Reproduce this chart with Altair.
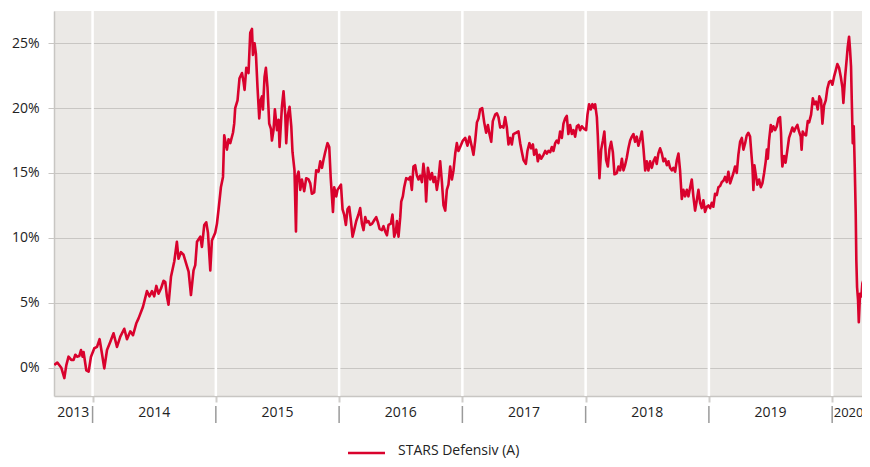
import altair as alt
import pandas as pd

# decimal-year time stamps and fund performance (%)
t = [
2013.689,2013.714,2013.746,2013.771,2013.787,2013.805,2013.827,2013.846,2013.860,2013.874,
2013.892,2013.906,2013.919,2013.927,2013.949,2013.968,2013.987,2014.014,2014.036,2014.057,
2014.076,2014.095,2014.117,2014.144,2014.170,2014.198,2014.225,2014.257,2014.279,2014.306,
2014.328,2014.354,2014.373,2014.409,2014.441,2014.462,2014.482,2014.500,2014.517,2014.535,
2014.555,2014.576,2014.590,2014.603,2014.616,2014.636,2014.663,2014.684,2014.697,2014.717,
2014.738,2014.766,2014.779,2014.798,2014.819,2014.833,2014.847,2014.874,2014.887,2014.906,
2014.922,2014.936,2014.955,2014.968,2014.995,2015.009,2015.022,2015.041,2015.058,2015.068,
2015.090,2015.103,2015.117,2015.139,2015.149,2015.157,2015.176,2015.192,2015.212,2015.225,
2015.233,2015.247,2015.265,2015.279,2015.293,2015.301,2015.314,2015.325,2015.338,2015.352,
2015.363,2015.374,2015.382,2015.395,2015.406,2015.419,2015.433,2015.447,2015.455,2015.468,
2015.479,2015.496,2015.509,2015.517,2015.536,2015.549,2015.563,2015.571,2015.585,2015.598,
2015.612,2015.622,2015.638,2015.650,2015.658,2015.671,2015.685,2015.698,2015.717,2015.733,
2015.752,2015.766,2015.779,2015.798,2015.814,2015.833,2015.847,2015.861,2015.873,2015.887,
2015.906,2015.920,2015.932,2015.950,2015.960,2015.977,2015.987,2016.015,2016.028,2016.041,
2016.055,2016.068,2016.082,2016.096,2016.109,2016.122,2016.139,2016.157,2016.171,2016.185,
2016.198,2016.212,2016.225,2016.238,2016.252,2016.268,2016.287,2016.301,2016.315,2016.328,
2016.347,2016.360,2016.374,2016.388,2016.401,2016.420,2016.433,2016.447,2016.461,2016.469,
2016.482,2016.496,2016.504,2016.517,2016.528,2016.544,2016.563,2016.577,2016.590,2016.603,
2016.617,2016.631,2016.644,2016.658,2016.672,2016.684,2016.698,2016.706,2016.720,2016.739,
2016.753,2016.766,2016.779,2016.793,2016.806,2016.820,2016.834,2016.847,2016.861,2016.874,
2016.887,2016.901,2016.915,2016.928,2016.942,2016.955,2016.968,2016.982,2017.004,2017.023,
2017.041,2017.058,2017.077,2017.090,2017.104,2017.118,2017.131,2017.144,2017.161,2017.177,
2017.193,2017.207,2017.220,2017.234,2017.247,2017.266,2017.280,2017.293,2017.307,2017.320,
2017.333,2017.347,2017.361,2017.374,2017.388,2017.401,2017.414,2017.436,2017.455,2017.469,
2017.483,2017.496,2017.515,2017.528,2017.544,2017.558,2017.572,2017.582,2017.599,2017.612,
2017.625,2017.639,2017.658,2017.672,2017.685,2017.698,2017.712,2017.726,2017.739,2017.753,
2017.766,2017.779,2017.793,2017.807,2017.820,2017.834,2017.847,2017.860,2017.874,2017.888,
2017.901,2017.915,2017.929,2017.942,2017.955,2017.969,2017.988,2018.004,2018.015,2018.028,
2018.042,2018.055,2018.069,2018.077,2018.091,2018.099,2018.112,2018.126,2018.140,2018.152,
2018.166,2018.180,2018.193,2018.207,2018.221,2018.234,2018.253,2018.266,2018.280,2018.294,
2018.307,2018.320,2018.334,2018.347,2018.361,2018.375,2018.388,2018.401,2018.415,2018.428,
2018.442,2018.456,2018.469,2018.483,2018.496,2018.509,2018.523,2018.537,2018.550,2018.564,
2018.577,2018.590,2018.604,2018.618,2018.631,2018.645,2018.659,2018.672,2018.685,2018.699,
2018.712,2018.726,2018.740,2018.753,2018.766,2018.780,2018.793,2018.807,2018.821,2018.834,
2018.848,2018.861,2018.874,2018.888,2018.902,2018.915,2018.929,2018.942,2018.955,2018.969,
2018.983,2018.996,2019.010,2019.023,2019.036,2019.050,2019.064,2019.077,2019.091,2019.105,
2019.118,2019.131,2019.145,2019.158,2019.172,2019.186,2019.199,2019.212,2019.226,2019.239,
2019.253,2019.267,2019.280,2019.294,2019.307,2019.320,2019.334,2019.342,2019.353,2019.361,
2019.369,2019.383,2019.393,2019.407,2019.421,2019.434,2019.448,2019.461,2019.470,2019.478,
2019.488,2019.502,2019.510,2019.523,2019.537,2019.551,2019.564,2019.577,2019.585,2019.591,
2019.596,2019.610,2019.622,2019.637,2019.650,2019.664,2019.677,2019.691,2019.705,2019.718,
2019.731,2019.745,2019.752,2019.761,2019.772,2019.788,2019.802,2019.813,2019.829,2019.843,
2019.856,2019.869,2019.883,2019.896,2019.910,2019.921,2019.934,2019.948,2019.961,2019.975,
2019.989,2020.002,2020.015,2020.029,2020.042,2020.056,2020.070,2020.083,2020.091,2020.105,
2020.118,2020.126,2020.137,2020.145,2020.153,2020.159,2020.164,2020.167,2020.175,2020.183,
2020.191,2020.196,2020.202,2020.210,2020.216,2020.226,2020.237,2020.245,2020.259,2020.272,
2020.285,2020.297,2020.302,
]
v = [
0.2,0.4,0.0,-0.8,0.2,0.85,0.6,0.6,1.0,0.85,
0.9,1.36,0.85,1.2,-0.2,-0.3,0.85,1.5,1.6,2.2,
1.1,-0.05,1.36,2.0,2.65,1.6,2.4,3.0,2.2,2.8,
2.5,3.4,3.8,4.7,5.9,5.5,5.9,5.5,6.3,5.7,
6.1,6.7,6.6,5.5,4.85,7.0,8.2,9.7,8.4,8.9,
8.7,7.8,7.4,5.6,7.5,7.9,9.7,10.1,9.3,11.0,
11.2,10.4,7.5,9.8,10.4,11.1,12.2,13.9,14.7,17.9,
16.8,17.6,17.3,18.1,18.8,20.0,20.6,22.3,22.7,22.0,
21.4,23.1,22.7,25.8,26.1,24.1,25.0,24.2,21.6,19.2,
20.6,20.9,19.9,22.4,23.1,21.6,18.8,18.4,17.5,18.3,
19.9,18.3,19.1,17.0,20.1,21.3,19.5,17.3,19.5,20.1,
18.6,16.6,15.2,10.5,14.7,15.1,13.7,14.5,13.6,14.6,
14.5,14.2,13.4,13.5,15.2,15.1,15.9,15.4,16.0,16.6,
17.3,17.0,14.6,12.0,13.9,13.2,13.7,14.1,12.2,11.8,
11.0,12.2,12.4,11.3,10.1,10.6,11.3,11.8,12.3,11.1,
10.6,11.6,11.2,11.3,11.0,11.1,11.4,11.6,11.2,10.7,
10.6,10.9,10.5,10.2,11.0,11.1,11.8,10.1,10.5,11.3,
10.1,11.6,12.8,13.2,13.9,14.6,14.5,14.7,13.7,15.5,
15.6,14.8,14.5,14.8,14.3,15.7,14.6,12.8,15.4,14.5,
15.0,14.3,14.7,13.7,14.5,15.9,14.3,12.5,12.1,13.7,
14.1,15.5,14.5,15.2,16.5,17.3,16.7,17.0,17.5,17.7,
17.1,17.8,17.0,16.4,17.5,18.9,19.2,19.9,20.0,18.9,
18.1,18.7,18.0,17.4,19.0,19.5,19.6,19.3,18.5,18.6,
18.5,19.3,18.5,17.2,17.7,17.2,18.0,18.1,18.2,17.3,
16.6,16.0,15.7,16.7,17.3,16.9,17.2,16.4,16.8,15.9,
16.4,16.1,16.4,16.7,16.5,16.7,16.6,17.0,16.7,17.3,
17.5,17.3,18.2,17.7,18.8,19.2,19.4,18.0,18.7,18.0,
18.3,17.8,18.6,18.7,18.3,18.6,18.4,18.3,19.5,20.3,
19.9,20.3,20.0,20.3,19.3,17.8,14.6,16.8,17.5,18.2,
16.0,15.5,16.8,17.4,16.6,14.9,15.0,15.5,15.2,16.1,
15.2,15.6,16.2,16.9,17.5,17.8,18.0,17.4,17.8,17.1,
17.6,18.2,16.9,15.2,15.9,15.2,15.9,15.4,15.9,16.2,
15.7,16.5,16.9,16.5,15.9,16.1,15.6,15.9,15.4,15.2,
15.4,15.1,16.0,16.5,15.2,13.0,13.7,13.2,13.7,13.2,
13.9,14.5,13.2,12.1,12.9,13.7,12.7,12.3,12.9,12.0,
12.4,12.5,12.3,12.7,12.4,13.4,13.3,13.9,14.0,14.3,
14.4,14.7,14.3,15.1,14.2,14.6,15.0,15.5,15.0,16.4,
17.4,17.7,16.8,17.3,17.9,18.1,17.8,16.8,15.5,13.7,
15.6,14.7,14.1,14.5,13.9,14.2,15.0,15.9,16.8,16.1,
17.5,18.7,18.2,18.6,18.3,18.6,19.2,19.3,18.1,16.3,
15.5,16.3,15.8,16.8,17.7,18.1,18.5,18.2,18.5,18.7,
18.2,17.8,16.8,18.2,18.0,17.9,19.0,18.9,19.5,20.75,
20.3,20.5,19.9,20.9,20.6,18.8,20.2,20.6,21.5,22.0,
22.1,21.8,22.4,22.9,23.4,23.1,22.4,21.6,20.4,22.4,
23.8,24.7,25.5,24.5,23.2,20.6,18.6,17.3,18.6,15.5,
11.9,8.3,6.2,5.2,3.5,5.7,5.5,6.5,6.9,7.8,
8.2,8.5,7.6,
]
series_name = "STARS Defensiv (A)"
year_marks = [2014, 2015, 2016, 2017, 2018, 2019, 2020]
year_labels = ["2013", "2014", "2015", "2016", "2017", "2018", "2019", "2020"]
y_ticks = [0, 5, 10, 15, 20, 25]

x_start, x_end = 2013.687, 2020.242
y_lo, y_hi = -2.18, 27.48

W, H = 808, 385
FONT = "Open Sans"
RED = "#d9022d"

df = pd.DataFrame({"t": t, "v": v})
years_df = pd.DataFrame({"year": year_marks})
lab_pos, lab_size = [], []
for lab in year_labels:
    y0 = max(int(lab), x_start)
    y1 = min(int(lab) + 1, x_end)
    lab_pos.append((y0 + y1) / 2 + (0.012 if y1 == x_end else 0))
    lab_size.append(13 if y1 == x_end else 14)
labels_df = pd.DataFrame({"pos": lab_pos, "label": year_labels, "fs": lab_size})

xscale = alt.Scale(domain=[x_start, x_end], nice=False, zero=False)
yscale = alt.Scale(domain=[y_lo, y_hi], nice=False, zero=False)

base_x = alt.X(
    "t:Q", scale=xscale, title=None,
    axis=alt.Axis(values=year_marks, labels=False, grid=False, tickSize=6,
                  tickColor="#cfcdca", tickWidth=2, domainColor="#c8c6c3",
                  domainWidth=1.5),
)
base_y = alt.Y(
    "v:Q", scale=yscale, title=None,
    axis=alt.Axis(values=y_ticks, labelExpr="datum.value + '%'", grid=True,
                  gridColor="#c8c6c3", gridWidth=1, tickSize=6,
                  tickColor="#c8c6c3", domainColor="#c8c6c3", domainWidth=1.5,
                  labelFont=FONT, labelFontSize=14, labelColor="#222222",
                  labelPadding=9),
)

white_rules = alt.Chart(years_df).mark_rule(color="white", strokeWidth=2.5).encode(
    x=alt.X("year:Q", scale=xscale)
)

line = alt.Chart(df).mark_line(color=RED, strokeWidth=2.6, strokeJoin="round",
                               clip=True).encode(
    x=base_x, y=base_y
)

separators = alt.Chart(years_df).mark_rule(color="#9a9a9a", strokeWidth=1.5).encode(
    x=alt.X("year:Q", scale=xscale),
    y=alt.value(H + 10),
    y2=alt.value(H + 27),
)

year_text = alt.Chart(labels_df).mark_text(
    font=FONT, color="#222222", baseline="middle", align="center"
).encode(
    x=alt.X("pos:Q", scale=xscale),
    y=alt.value(H + 17),
    text="label:N",
    size=alt.Size("fs:Q", scale=None),
)

legend_df = pd.DataFrame({"name": [series_name]})
legend_line = alt.Chart(legend_df).mark_rule(color=RED, strokeWidth=2.5).encode(
    x=alt.value(294), x2=alt.value(331), y=alt.value(H + 57)
)
legend_text = alt.Chart(legend_df).mark_text(
    font=FONT, fontSize=14, color="#222222", align="left", baseline="middle"
).encode(
    x=alt.value(344), y=alt.value(H + 55), text="name:N"
)

chart = alt.layer(
    white_rules, line, separators, year_text, legend_line, legend_text
).properties(
    width=W, height=H,
    padding={"left": 46, "top": 3, "right": 0, "bottom": 63},
    autosize=alt.AutoSizeParams(type="none"),
).configure_view(
    fill="#ebe9e6", stroke=None
).configure_axis(
    labelFont=FONT
)

chart.save("out.html", embed_options={"renderer": "svg", "actions": False})
